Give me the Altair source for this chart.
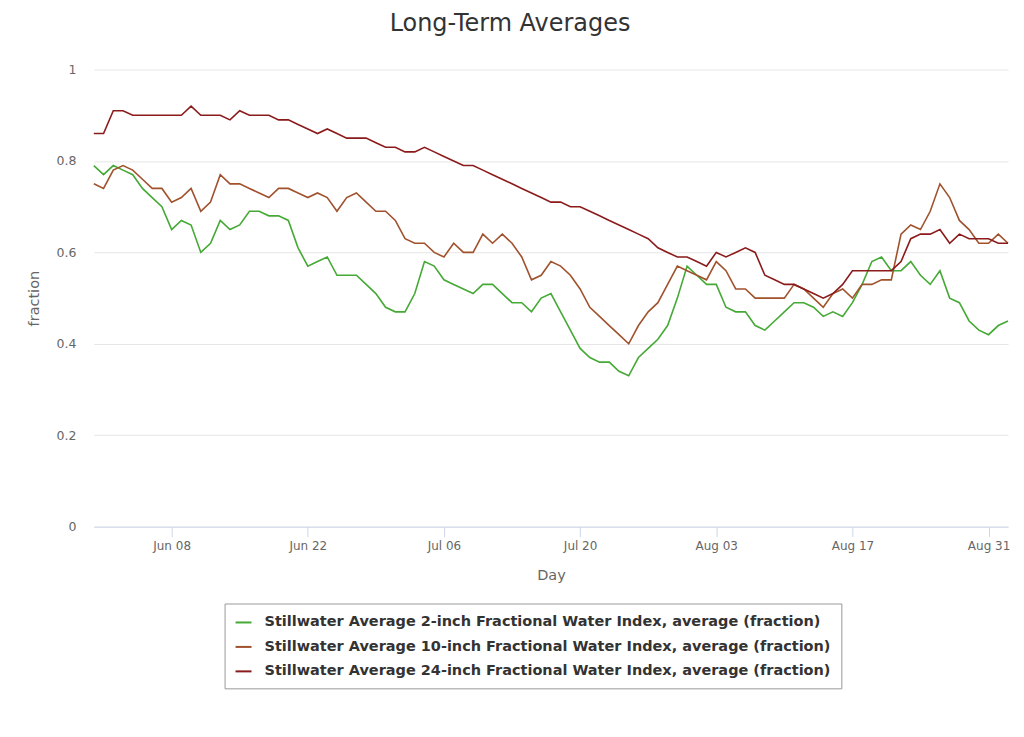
import altair as alt
import pandas as pd

# ---- data ----
start_day = "2023-05-31"
n_days = 95
day_values = pd.date_range(start_day, periods=n_days, freq="D").strftime("%Y-%m-%dT00:00:00").tolist()

series_names = [
    "Stillwater Average 2-inch Fractional Water Index, average (fraction)",
    "Stillwater Average 10-inch Fractional Water Index, average (fraction)",
    "Stillwater Average 24-inch Fractional Water Index, average (fraction)",
]
series_colors = ["#45a935", "#a0522d", "#8b1a1a"]

two_inch = [
    0.79, 0.77, 0.79, 0.78, 0.77, 0.74, 0.72, 0.70, 0.65, 0.67,
    0.66, 0.60, 0.62, 0.67, 0.65, 0.66, 0.69, 0.69, 0.68, 0.68,
    0.67, 0.61, 0.57, 0.58, 0.59, 0.55, 0.55, 0.55, 0.53, 0.51,
    0.48, 0.47, 0.47, 0.51, 0.58, 0.57, 0.54, 0.53, 0.52, 0.51,
    0.53, 0.53, 0.51, 0.49, 0.49, 0.47, 0.50, 0.51, 0.47, 0.43,
    0.39, 0.37, 0.36, 0.36, 0.34, 0.33, 0.37, 0.39, 0.41, 0.44,
    0.50, 0.57, 0.55, 0.53, 0.53, 0.48, 0.47, 0.47, 0.44, 0.43,
    0.45, 0.47, 0.49, 0.49, 0.48, 0.46, 0.47, 0.46, 0.49, 0.53,
    0.58, 0.59, 0.56, 0.56, 0.58, 0.55, 0.53, 0.56, 0.50, 0.49,
    0.45, 0.43, 0.42, 0.44, 0.45,
]
ten_inch = [
    0.75, 0.74, 0.78, 0.79, 0.78, 0.76, 0.74, 0.74, 0.71, 0.72,
    0.74, 0.69, 0.71, 0.77, 0.75, 0.75, 0.74, 0.73, 0.72, 0.74,
    0.74, 0.73, 0.72, 0.73, 0.72, 0.69, 0.72, 0.73, 0.71, 0.69,
    0.69, 0.67, 0.63, 0.62, 0.62, 0.60, 0.59, 0.62, 0.60, 0.60,
    0.64, 0.62, 0.64, 0.62, 0.59, 0.54, 0.55, 0.58, 0.57, 0.55,
    0.52, 0.48, 0.46, 0.44, 0.42, 0.40, 0.44, 0.47, 0.49, 0.53,
    0.57, 0.56, 0.55, 0.54, 0.58, 0.56, 0.52, 0.52, 0.50, 0.50,
    0.50, 0.50, 0.53, 0.52, 0.50, 0.48, 0.51, 0.52, 0.50, 0.53,
    0.53, 0.54, 0.54, 0.64, 0.66, 0.65, 0.69, 0.75, 0.72, 0.67,
    0.65, 0.62, 0.62, 0.64, 0.62,
]
twentyfour_inch = [
    0.86, 0.86, 0.91, 0.91, 0.90, 0.90, 0.90, 0.90, 0.90, 0.90,
    0.92, 0.90, 0.90, 0.90, 0.89, 0.91, 0.90, 0.90, 0.90, 0.89,
    0.89, 0.88, 0.87, 0.86, 0.87, 0.86, 0.85, 0.85, 0.85, 0.84,
    0.83, 0.83, 0.82, 0.82, 0.83, 0.82, 0.81, 0.80, 0.79, 0.79,
    0.78, 0.77, 0.76, 0.75, 0.74, 0.73, 0.72, 0.71, 0.71, 0.70,
    0.70, 0.69, 0.68, 0.67, 0.66, 0.65, 0.64, 0.63, 0.61, 0.60,
    0.59, 0.59, 0.58, 0.57, 0.60, 0.59, 0.60, 0.61, 0.60, 0.55,
    0.54, 0.53, 0.53, 0.52, 0.51, 0.50, 0.51, 0.53, 0.56, 0.56,
    0.56, 0.56, 0.56, 0.58, 0.63, 0.64, 0.64, 0.65, 0.62, 0.64,
    0.63, 0.63, 0.63, 0.62, 0.62,
]

x_tick_dates = [(6, 8), (6, 22), (7, 6), (7, 20), (8, 3), (8, 17), (8, 31)]
y_ticks = [0, 0.2, 0.4, 0.6, 0.8, 1]

rows = []
for order, (name, vals) in enumerate(zip(series_names, [two_inch, ten_inch, twentyfour_inch])):
    for d, v in zip(day_values, vals):
        rows.append({"Day": d, "value": v, "series": name, "order": order})
df = pd.DataFrame(rows)

FONT = "DejaVu Sans"

chart = (
    alt.Chart(df)
    .mark_line(strokeWidth=1.6)
    .encode(
        x=alt.X(
            "Day:T",
            title="Day",
            scale=alt.Scale(nice=False),
            axis=alt.Axis(
                values=[alt.DateTime(year=2023, month=m, date=d) for m, d in x_tick_dates],
                format="%b %d",
                grid=False,
                domainColor="#ccd6eb",
                tickColor="#ccd6eb",
                tickSize=10,
                labelPadding=4,
                labelColor="#666666",
                labelFontSize=12,
                labelFont=FONT,
                titleColor="#666666",
                titleFontSize=14.5,
                titleFont=FONT,
                titleFontWeight="normal",
                titlePadding=17,
            ),
        ),
        y=alt.Y(
            "value:Q",
            title="fraction",
            scale=alt.Scale(domain=[0, 1], nice=False),
            axis=alt.Axis(
                values=y_ticks,
                format="~g",
                domain=False,
                ticks=False,
                grid=True,
                gridColor="#e6e6e6",
                labelPadding=18,
                labelColor="#666666",
                labelFontSize=12.5,
                labelFont=FONT,
                titleColor="#666666",
                titleFontSize=14.5,
                titleFont=FONT,
                titleFontWeight="normal",
                titlePadding=15,
            ),
        ),
        color=alt.Color(
            "series:N",
            scale=alt.Scale(domain=series_names, range=series_colors),
            legend=alt.Legend(
                title=None,
                orient="none",
                legendX=131,
                legendY=535,
                symbolType="stroke",
                symbolSize=256,
                symbolStrokeWidth=2,
                labelFont=FONT,
                labelFontSize=14.5,
                labelFontWeight="bold",
                labelColor="#333333",
                labelLimit=900,
                labelOffset=12,
                strokeColor="#999999",
                fillColor="white",
                padding=10,
                rowPadding=8.5,
                cornerRadius=0,
            ),
        ),
        order=alt.Order("order:Q"),
    )
    .properties(
        width=916,
        height=458,
        title=alt.TitleParams(
            "Long-Term Averages",
            font=FONT,
            fontSize=24,
            fontWeight="normal",
            color="#333333",
            offset=28,
            dx=-41,
        ),
        autosize=alt.AutoSizeParams(type="none"),
        padding={"left": 86, "top": 61, "right": 8, "bottom": 180},
    )
    .configure_view(stroke=None)
)

chart.save("out.html", embed_options={"renderer": "svg", "actions": False})
